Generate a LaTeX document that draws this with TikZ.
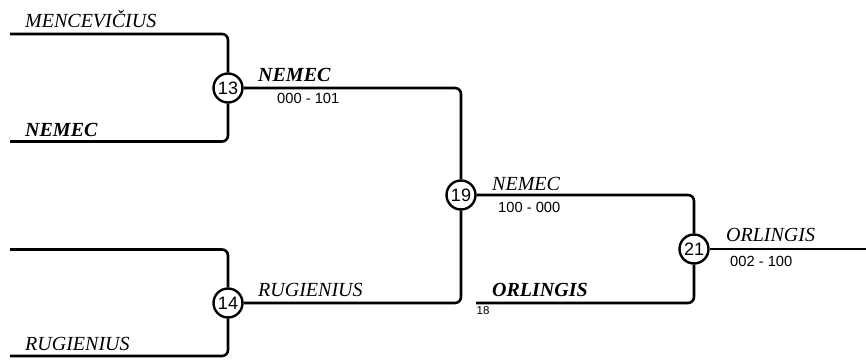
\documentclass[tikz,border=0pt]{standalone}
\usepackage{fontspec}
\setmainfont{Liberation Serif}
\newfontfamily\sansf{Liberation Sans}
\begin{document}
\begin{tikzpicture}[x=1pt,y=-1pt,
  wire/.style={line width=2.6pt,rounded corners=6pt},
  mnode/.style={circle,draw,line width=2.4pt,fill=white,inner sep=0pt,minimum size=29pt,font=\sansf\fontsize{18}{18}\selectfont},
  plabel/.style={anchor=base west,inner sep=0pt,font=\itshape\fontsize{20}{20}\selectfont},
  wlabel/.style={anchor=base west,inner sep=0pt,font=\bfseries\itshape\fontsize{20}{20}\selectfont},
  score/.style={anchor=base west,inner sep=0pt,font=\sansf\fontsize{14.7}{14.7}\selectfont},
  small/.style={anchor=base west,inner sep=0pt,font=\sansf\fontsize{11.5}{11.5}\selectfont}]
\useasboundingbox (0,0) rectangle (866,361);
% match nodes
\node[mnode] (m13) at (228,88) {13};
\node[mnode] (m14) at (228,303) {14};
\node[mnode] (m19) at (461,195) {19};
\node[mnode] (m21) at (694,249) {21};
% free ends
\coordinate (s1) at (10,34);
\coordinate (s2) at (10,141.5);
\coordinate (s3) at (10,249.5);
\coordinate (s4) at (10,356);
\coordinate (s5) at (476,303);
\coordinate (e1) at (866,249);
% wires
\begin{scope}[on background layer/.style={}]
\draw[wire] (s1) -| (m13);
\draw[wire] (s2) -| (m13);
\draw[wire] (s3) -| (m14);
\draw[wire] (s4) -| (m14);
\draw[wire] (m13) -| (m19);
\draw[wire] (m14) -| (m19);
\draw[wire] (m19) -| (m21);
\draw[wire] (s5) -| (m21);
\draw[wire] (m21) -- (e1);
\end{scope}
% labels
\node[plabel] (l1) at (25,28) {MENCEVIČIUS};
\node[wlabel] (l2) at (25,136.5) {NEMEC};
\node[plabel] (l4) at (25,350.5) {RUGIENIUS};
\node[wlabel] (l13) at (258,81.5) {NEMEC};
\node[score] (c13) at (277,103.5) {000 - 101};
\node[plabel] (l14) at (258,296.5) {RUGIENIUS};
\node[plabel] (l19) at (492,190) {NEMEC};
\node[score] (c19) at (498,212) {100 - 000};
\node[wlabel] (l5) at (492,296.5) {ORLINGIS};
\node[small] (n18) at (476.5,314) {18};
\node[plabel] (l21) at (726,241.5) {ORLINGIS};
\node[score] (c21) at (730,266) {002 - 100};
\end{tikzpicture}
\end{document}
